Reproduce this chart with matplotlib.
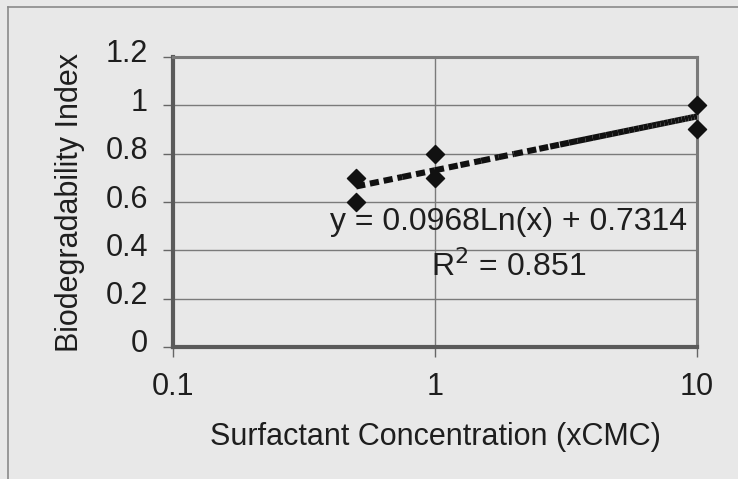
import matplotlib.pyplot as plt
import matplotlib.transforms as mtransforms
from matplotlib.collections import LineCollection
import numpy as np

plt.rcParams["font.family"] = ["Liberation Sans", "DejaVu Sans"]

# data
conc_xcmc = [0.5, 0.5, 1, 1, 10, 10]
bio_index = [0.7, 0.6, 0.8, 0.7, 1.0, 0.9]
fit_slope = 0.0968
fit_icept = 0.7314
fit_r2 = 0.851
y_ticks = [0, 0.2, 0.4, 0.6, 0.8, 1, 1.2]
y_tick_labels = ["0", "0.2", "0.4", "0.6", "0.8", "1", "1.2"]
x_ticks = [0.1, 1, 10]
x_tick_labels = ["0.1", "1", "10"]

BG = "#e8e8e8"
INK = "#1e1e1e"
W, H = 738, 479


def main() -> None:
    fig = plt.figure(figsize=(W / 100, H / 100), dpi=100, facecolor=BG)
    ax = fig.add_axes([173 / W, 1 - 347 / H, (697 - 173) / W, (347 - 57) / H])
    ax.set_facecolor(BG)

    # outer chart frame (only top and left edges fall inside the scan)
    fig.add_artist(plt.Line2D([8 / W, 1], [1 - 7 / H, 1 - 7 / H], transform=fig.transFigure,
                              color="#8a8a8a", linewidth=1.2))
    fig.add_artist(plt.Line2D([8 / W, 8 / W], [0, 1 - 7 / H], transform=fig.transFigure,
                              color="#8a8a8a", linewidth=1.2))

    ax.set_xscale("log")
    ax.set_xlim(0.1, 10)
    ax.set_ylim(0, 1.2)

    # spreadsheet-style trendline: linear sampling, dash pattern restarts per segment,
    # so it looks denser towards the right on a log axis
    xs = np.linspace(min(conc_xcmc), max(conc_xcmc), 39)
    ys = fit_slope * np.log(xs) + fit_icept
    segs = [[(xs[i], ys[i]), (xs[i + 1], ys[i + 1])] for i in range(len(xs) - 1)]
    trend = LineCollection(segs, colors="#111111", linewidths=4.4,
                           linestyles=[(0, (1.5, 0.8))], capstyle="butt", zorder=3)
    ax.add_collection(trend)
    ax.scatter(conc_xcmc, bio_index, marker="D", s=85, color="#111111", zorder=4,
               clip_on=False)

    ax.set_yticks(y_ticks)
    ax.set_yticklabels(y_tick_labels)
    ax.set_xticks(x_ticks)
    ax.set_xticklabels(x_tick_labels)
    ax.minorticks_off()
    ax.tick_params(axis="both", labelsize=22, labelcolor=INK, color="#666666",
                   length=7, width=1, direction="out")
    ax.tick_params(axis="x", pad=11)
    ax.tick_params(axis="y", pad=11)
    shift = mtransforms.ScaledTranslation(0, 6 / 100, fig.dpi_scale_trans)
    for lab in ax.get_yticklabels():
        lab.set_transform(lab.get_transform() + shift)

    ax.grid(True, which="major", color="#7a7a7a", linewidth=1.0)
    ax.set_axisbelow(True)
    for side in ["left", "bottom"]:
        ax.spines[side].set_color("#5a5a5a")
        ax.spines[side].set_linewidth(3.0)
    for side in ["top", "right"]:
        ax.spines[side].set_color("#7a7a7a")
        ax.spines[side].set_linewidth(2.2)

    ax.set_xlabel("Surfactant Concentration (xCMC)", fontsize=22, color=INK, va="center")
    ax.xaxis.set_label_coords(0.5, (347 - 437) / 290)
    ax.set_ylabel("Biodegradability Index", fontsize=22, color=INK, va="center")
    ax.yaxis.set_label_coords((70 - 173) / 524, 0.5)

    ax.text(0.641, 0.431, f"y = {fit_slope}Ln(x) + {fit_icept}", transform=ax.transAxes,
            ha="center", va="center", fontsize=23, color=INK)
    ax.text(0.641, 0.276, f"R$^2$ = {fit_r2}", transform=ax.transAxes,
            ha="center", va="center", fontsize=23, color=INK)

    fig.savefig("out.png", dpi=100, facecolor=BG)
    plt.close(fig)


if __name__ == "__main__":
    main()
